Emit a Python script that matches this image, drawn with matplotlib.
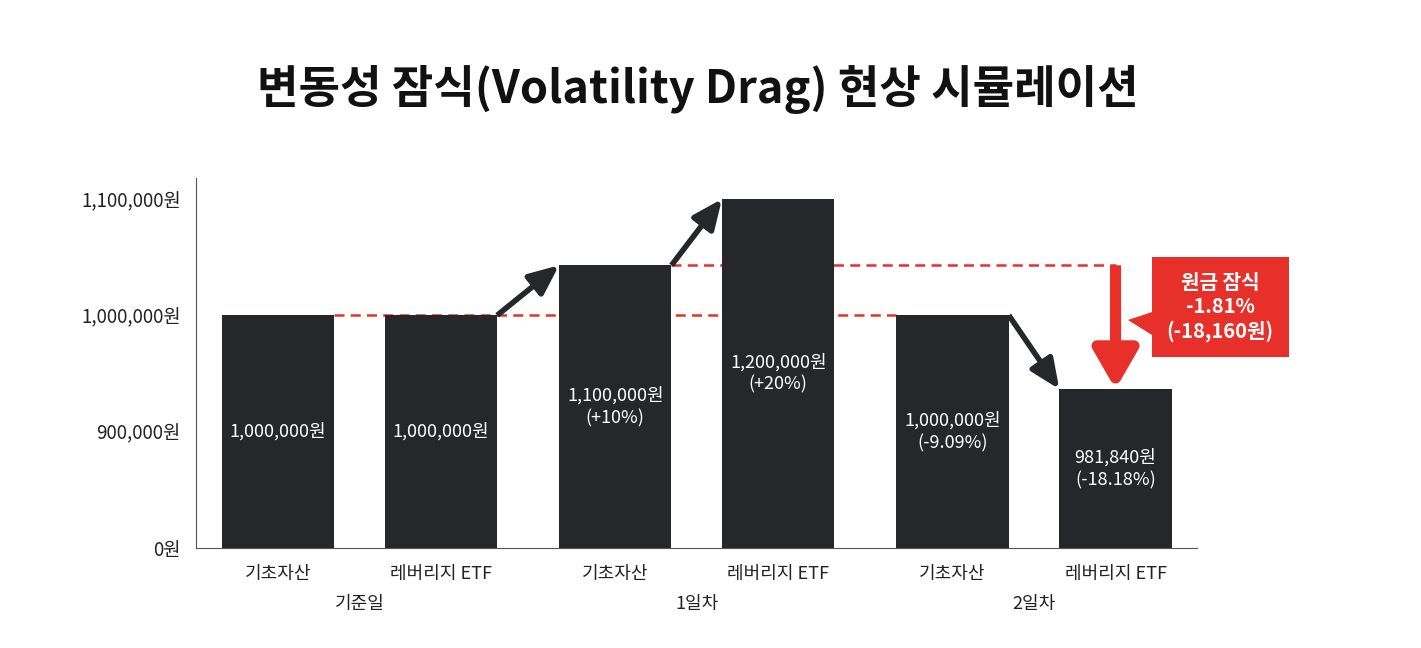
import numpy as np
import matplotlib
matplotlib.use("Agg")
import matplotlib.pyplot as plt
from matplotlib.scale import FuncScale
from matplotlib.patches import Polygon

plt.rcParams['font.family'] = ['Noto Sans CJK KR', 'DejaVu Sans']

# data
groups = ['기준일', '1일차', '2일차']
categories = ['기초자산', '레버리지 ETF'] * 3
heights = [1000000, 1000000, 1043000, 1100000, 1000000, 936500]
bar_labels = ['1,000,000원', '1,000,000원', '1,100,000원\n(+10%)',
              '1,200,000원\n(+20%)', '1,000,000원\n(-9.09%)', '981,840원\n(-18.18%)']
ytick_values = [0, 900000, 1000000, 1100000]
ytick_labels = ['0원', '900,000원', '1,000,000원', '1,100,000원']
loss_text = '원금 잠식\n-1.81%\n(-18,160원)'

BAR = '#25272b'
RED = '#e8302a'

# broken axis: ticks evenly spaced visually
knots_v = [0, 900000, 1000000, 1100000, 1200000]
knots_p = [0, 1, 2, 3, 4]
def fwd(v):
    return np.interp(v, knots_v, knots_p)
def inv(p):
    return np.interp(p, knots_p, knots_v)

fig = plt.figure(figsize=(14.21, 6.48), dpi=100)
ax = fig.add_axes([196/1421, 1-548/648, (1197-196)/1421, (548-178)/648])
ax.set_yscale(FuncScale(ax, (fwd, inv)))

x = np.array([g * 2.07 + i for g in range(3) for i in range(2)])
w = 0.69
ax.bar(x, heights, width=w, color=BAR, zorder=2)

ax.set_xlim(-0.503, 5.64)
ax.set_ylim(0, inv(3.18))
ax.set_yticks(ytick_values)
ax.set_yticklabels(ytick_labels, fontsize=13.5, color='#222222')
ax.set_xticks(x)
ax.set_xticklabels(categories, fontsize=13, color='#222222')
ax.tick_params(length=0, axis='y', pad=11)
ax.tick_params(length=0, axis='x', pad=12)
for g, name in enumerate(groups):
    ax.text(g * 2.07 + 0.5, -0.152, name, transform=ax.get_xaxis_transform(),
            ha='center', va='center', fontsize=13, color='#222222')

for s in ['top', 'right']:
    ax.spines[s].set_visible(False)
ax.spines['left'].set_color('#555555')
ax.spines['bottom'].set_color('#555555')

# labels inside bars
for xi, h, lab in zip(x, heights, bar_labels):
    ymid = inv(fwd(h) / 2)
    ax.text(xi, ymid, lab, ha='center', va='center', color='white',
            fontsize=13, fontweight='light', linespacing=1.3, zorder=3)

# red dashed reference lines
ax.plot([x[0] + w/2, x[4] - w/2], [heights[0], heights[0]], color=RED,
        lw=1.8, ls=(0, (4, 2.5)), zorder=1)
ax.plot([x[2] + w/2, x[5]], [heights[2], heights[2]], color=RED,
        lw=1.8, ls=(0, (4, 2.5)), zorder=1)

# black arrows between bars
for a, b in [(1, 2), (2, 3), (4, 5)]:
    ax.annotate('', xy=(x[b] - w/2, heights[b]), xytext=(x[a] + w/2, heights[a]),
                arrowprops=dict(arrowstyle='-|>,head_length=0.5,head_width=0.22',
                                lw=4, color=BAR, mutation_scale=36,
                                shrinkA=0, shrinkB=0, capstyle='butt'), zorder=4)

# red loss arrow
ax.annotate('', xy=(x[5], heights[5]), xytext=(x[5], heights[2]),
            arrowprops=dict(arrowstyle='-|>,head_length=0.4,head_width=0.23',
                            lw=8, color=RED, mutation_scale=58,
                            shrinkA=0, shrinkB=0, capstyle='butt'), zorder=4)

# callout box
fig.patches.append(Polygon([[1152/1421, 1-257/648], [1289/1421, 1-257/648],
                            [1289/1421, 1-357/648], [1152/1421, 1-357/648],
                            [1152/1421, 1-335/648], [1128/1421, 1-320/648],
                            [1152/1421, 1-312/648]],
                           closed=True, transform=fig.transFigure,
                           facecolor=RED, edgecolor='none'))
fig.text(1220/1421, 1-307/648, loss_text, ha='center', va='center',
         color='white', fontsize=14.5, fontweight='bold', linespacing=1.2)

fig.suptitle('변동성 잠식(Volatility Drag) 현상 시뮬레이션', x=0.491, y=1-89/648,
             va='center', fontsize=32.5, fontweight='bold', color='#111111')

fig.savefig('out.png', dpi=100, facecolor='white')
